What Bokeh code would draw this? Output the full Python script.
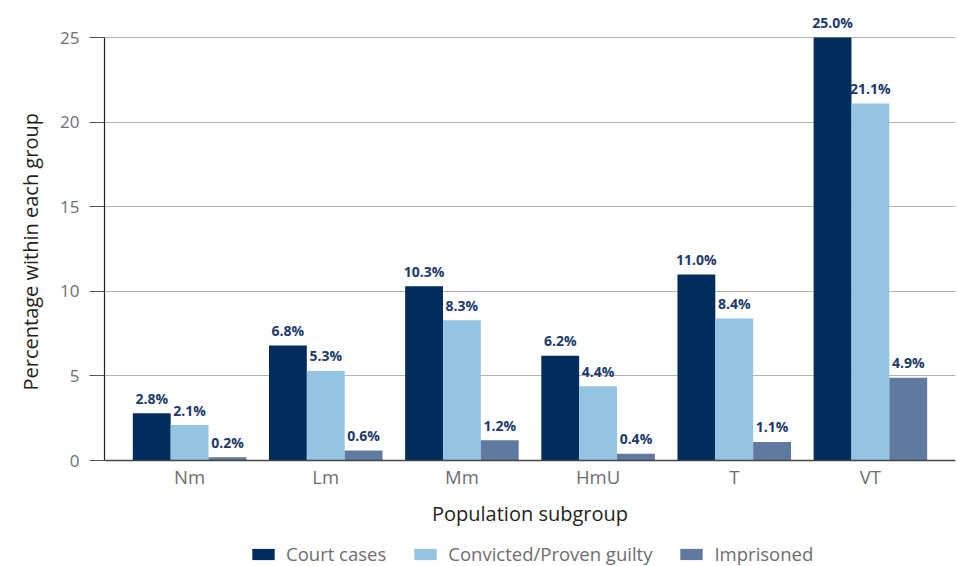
from bokeh.plotting import figure
from bokeh.models import (ColumnDataSource, FactorRange, Range1d, FixedTicker,
                          Legend, LegendItem, Title)
from bokeh.transform import dodge
from bokeh.core.properties import value
from bokeh.embed import file_html
from bokeh.resources import INLINE

categories = ["Nm", "Lm", "Mm", "HmU", "T", "VT"]
court_cases = [2.8, 6.8, 10.3, 6.2, 11.0, 25.0]
convicted = [2.1, 5.3, 8.3, 4.4, 8.4, 21.1]
imprisoned = [0.2, 0.6, 1.2, 0.4, 1.1, 4.9]
series_names = ["Court cases", "Convicted/Proven guilty", "Imprisoned"]
y_ticks = [0, 5, 10, 15, 20, 25]
y_title = "Percentage within each group"
x_title = "Population subgroup"

colors = ["#002d5e", "#93c4e1", "#5f79a0"]
FONT = "Open Sans"
GRAY = "#6d6e71"
DARK = "#231f20"
LABEL_BLUE = "#1d3a6b"

src = ColumnDataSource(dict(
    cat=categories,
    court=court_cases,
    conv=convicted,
    imp=imprisoned,
    court_lbl=[f"{v:.1f}%" for v in court_cases],
    conv_lbl=[f"{v:.1f}%" for v in convicted],
    imp_lbl=[f"{v:.1f}%" for v in imprisoned],
))

p = figure(width=957, height=566, output_backend="svg", toolbar_location=None,
           x_range=FactorRange(factors=categories, range_padding=0.125,
                               range_padding_units="absolute"),
           y_range=Range1d(-6.26, 26.6),
           min_border_left=102, min_border_right=2, min_border_top=10,
           min_border_bottom=0)
p.outline_line_color = None
p.background_fill_color = "white"

bw = 0.278
offsets = [-bw, 0.0, bw]
fields = ["court", "conv", "imp"]
renderers = []
for f, off, c in zip(fields, offsets, colors):
    r = p.vbar(x=dodge("cat", off, range=p.x_range), top=f, bottom=0,
               width=bw, source=src, fill_color=c, line_color=None)
    renderers.append(r)
    p.text(x=dodge("cat", off, range=p.x_range), y=f, text=f + "_lbl",
           source=src, text_align="center", text_baseline="alphabetic",
           y_offset=-15, text_font=value(FONT), text_font_size="14px",
           text_font_style="bold", text_color=LABEL_BLUE)

# grid
p.xgrid.grid_line_color = None
p.ygrid.grid_line_color = "#b3b3b3"
p.ygrid.grid_line_width = 1.2
p.ygrid.ticker = FixedTicker(ticks=y_ticks)

# y axis
ya = p.yaxis[0]
ya.ticker = FixedTicker(ticks=y_ticks)
ya.bounds = (0, 25)
ya.axis_line_color = DARK
ya.axis_line_width = 1.2
ya.major_tick_out = 15
ya.major_tick_in = 0
ya.major_tick_line_color = "#555555"
ya.major_tick_line_width = 1.2
ya.minor_tick_line_color = None
ya.major_label_text_font = FONT
ya.major_label_text_font_size = "17px"
ya.major_label_text_color = GRAY
ya.major_label_standoff = 10

# y title placed along the 0..25 part of the axis
p.add_layout(Title(text=y_title, align="left", offset=176, standoff=28,
                   text_font=FONT, text_font_size="20px",
                   text_font_style="normal", text_color=DARK), "left")

# x axis, pinned at y = 0 inside the frame
xa = p.xaxis[0]
xa.fixed_location = 0
xa.axis_line_color = "#444444"
xa.axis_line_width = 1.6
xa.major_tick_line_color = None
xa.minor_tick_line_color = None
xa.major_tick_out = 0
xa.major_label_text_font = FONT
xa.major_label_text_font_size = "18.5px"
xa.major_label_text_color = GRAY
xa.major_label_standoff = 3
xa.axis_label = x_title
xa.axis_label_text_font = FONT
xa.axis_label_text_font_size = "20px"
xa.axis_label_text_font_style = "normal"
xa.axis_label_text_color = DARK
xa.axis_label_standoff = 8

legend = Legend(items=[LegendItem(label=n, renderers=[r])
                       for n, r in zip(series_names, renderers)],
                orientation="horizontal", location=(145, 0),
                glyph_width=28, glyph_height=14, label_standoff=9,
                spacing=25, padding=0, margin=0,
                label_text_font=FONT, label_text_font_size="18.5px",
                label_text_color=GRAY, border_line_color=None,
                background_fill_alpha=0)
p.add_layout(legend, "center")

open("out.html", "w").write(file_html(p, INLINE))
